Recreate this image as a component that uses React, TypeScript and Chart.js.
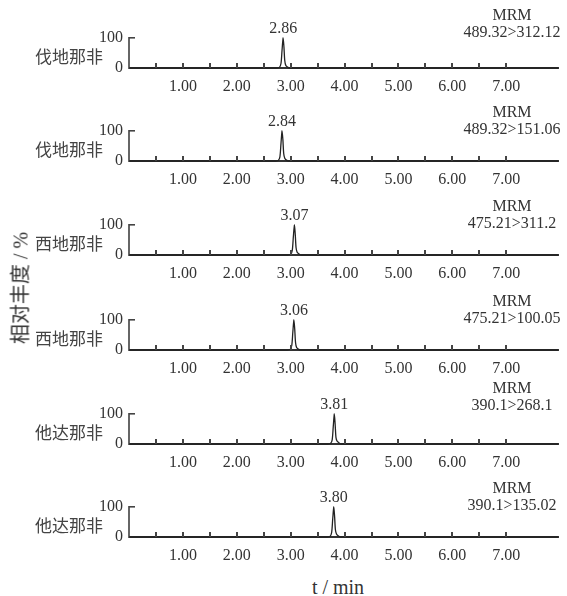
import React, { useEffect, useRef } from 'react';
import { Chart, registerables } from 'chart.js';
Chart.register(...registerables);

// ---- data ----
const compounds = ['伐地那非', '伐地那非', '西地那非', '西地那非', '他达那非', '他达那非'];
const transitions = ['489.32>312.12', '489.32>151.06', '475.21>311.2', '475.21>100.05', '390.1>268.1', '390.1>135.02'];
const peakTimes = [2.86, 2.84, 3.07, 3.06, 3.81, 3.80];
const xTickLabels = ['1.00', '2.00', '3.00', '4.00', '5.00', '6.00', '7.00'];
const yTickLabels = ['0', '100'];

const t1 = [0, 2.74, 2.79, 2.82, 2.84, 2.86, 2.875, 2.89, 2.91, 2.94, 2.98, 7.96];
const i1 = [0, 0, 2, 15, 60, 100, 70, 25, 8, 3, 0, 0];
const t2 = [0, 2.72, 2.77, 2.80, 2.82, 2.84, 2.855, 2.87, 2.89, 2.92, 2.96, 7.96];
const i2 = [0, 0, 2, 14, 58, 100, 72, 26, 9, 3, 0, 0];
const t3 = [0, 2.95, 3.00, 3.03, 3.05, 3.07, 3.085, 3.10, 3.12, 3.15, 3.19, 7.96];
const i3 = [0, 0, 2, 16, 62, 100, 68, 24, 9, 4, 0, 0];
const t4 = [0, 2.94, 2.99, 3.02, 3.04, 3.06, 3.075, 3.09, 3.11, 3.14, 3.18, 7.96];
const i4 = [0, 0, 2, 15, 60, 100, 70, 25, 8, 3, 0, 0];
const t5 = [0, 3.69, 3.74, 3.77, 3.79, 3.81, 3.825, 3.84, 3.86, 3.89, 3.93, 7.96];
const i5 = [0, 0, 2, 14, 58, 100, 66, 22, 10, 5, 0, 0];
const t6 = [0, 3.68, 3.73, 3.76, 3.78, 3.80, 3.815, 3.83, 3.85, 3.88, 3.92, 7.96];
const i6 = [0, 0, 2, 15, 60, 100, 68, 24, 10, 4, 0, 0];

const times = [t1, t2, t3, t4, t5, t6];
const intensities = [i1, i2, i3, i4, i5, i6];

// ---- layout (pixels) ----
const BASELINES = [68, 161, 255, 350, 444, 537];
const MRM_NUDGE = [-4, 0, 0, 0, -7, 0];
const CANVAS_H = 92;
const TOP_OFF = 62;
const SERIF = '"Liberation Serif", "Times New Roman", serif';
const CJK = '"Noto Sans CJK SC", sans-serif';
const TXT = '#333';

function Panel({ index }: { index: number }) {
  const ref = useRef<HTMLCanvasElement | null>(null);
  useEffect(() => {
    if (!ref.current) return;
    const annot = {
      id: 'annot',
      afterDatasetsDraw(chart: any) {
        const { ctx, chartArea } = chart;
        const x = chart.scales.x;
        const y = chart.scales.y;
        ctx.save();
        ctx.fillStyle = '#444';
        const xt: number[] = [];
        for (const tk of x.ticks) xt.push(Number(tk.value));
        xt.forEach((v) => {
          if (v > 0.01 && v < x.max - 0.01 && Math.abs(v * 2 - Math.round(v * 2)) < 1e-6) {
            const px = x.getPixelForValue(v);
            ctx.fillRect(Math.round(px) - 1, chartArea.bottom - 5, 2, 5);
          }
        });
        const yt: number[] = [];
        for (const tk of y.ticks) yt.push(Number(tk.value));
        yt.forEach((v) => {
          if (v > 0.01) {
            const py = y.getPixelForValue(v);
            ctx.fillRect(chartArea.left, Math.round(py) - 1, 6, 1.6);
          }
        });
        const top = y.getPixelForValue(100);
        ctx.fillStyle = TXT;
        ctx.textBaseline = 'middle';
        ctx.textAlign = 'center';
        ctx.font = `16px ${SERIF}`;
        ctx.fillText(peakTimes[index].toFixed(2), x.getPixelForValue(peakTimes[index]), top - 9);
        ctx.fillText('MRM', 512, top - 18 + MRM_NUDGE[index]);
        ctx.fillText(transitions[index], 512, top - 1 + MRM_NUDGE[index]);
        ctx.textAlign = 'right';
        ctx.fillStyle = '#444';
        ctx.font = `17px ${CJK}`;
        ctx.fillText(compounds[index], 103, chartArea.bottom - 11);
        ctx.restore();
      },
    };
    const data = times[index].map((t, k) => ({ x: t, y: intensities[index][k] }));
    const chart = new Chart(ref.current, {
      type: 'line',
      data: {
        datasets: [
          {
            data,
            borderColor: '#222',
            borderWidth: 1.3,
            pointRadius: 0,
            tension: 0.25,
            fill: false,
            clip: false as any,
          },
        ],
      },
      options: {
        responsive: false,
        animation: false,
        layout: { padding: { left: 0, right: 8, top: TOP_OFF - 30, bottom: 0 } },
        plugins: { legend: { display: false }, tooltip: { enabled: false }, title: { display: false } },
        scales: {
          x: {
            type: 'linear',
            min: 0,
            max: 7.96,
            afterFit: (s: any) => { s.height = CANVAS_H - TOP_OFF; },
            grid: { drawOnChartArea: false, drawTicks: false },
            border: { display: true, color: '#333', width: 2 },
            ticks: {
              stepSize: 0.5,
              padding: 9,
              maxRotation: 0,
              autoSkip: false,
              color: TXT,
              font: { family: SERIF, size: 16 },
              callback: (v: any) => {
                const n = Number(v);
                const idx = xTickLabels.indexOf(n.toFixed(2));
                return Math.abs(n - Math.round(n)) < 1e-6 && idx >= 0 ? xTickLabels[idx] : '';
              },
            },
          },
          y: {
            min: 0,
            max: 100,
            afterFit: (s: any) => { s.width = 129; },
            grid: { drawOnChartArea: false, drawTicks: false },
            border: { display: true, color: '#666', width: 2 },
            ticks: {
              stepSize: 50,
              padding: 6,
              color: TXT,
              font: { family: SERIF, size: 16 },
              callback: (v: any) => {
                const s = String(v);
                return yTickLabels.includes(s) ? s : '';
              },
            },
          },
        },
      },
      plugins: [annot],
    });
    return () => chart.destroy();
  }, [index]);
  return (
    <canvas
      ref={ref}
      width={567}
      height={CANVAS_H}
      style={{ position: 'absolute', left: 0, top: BASELINES[index] - TOP_OFF, width: 567, height: CANVAS_H }}
    />
  );
}

export default function App() {
  return (
    <div style={{ position: 'absolute', left: 0, top: 0, width: 567, height: 596, background: '#fff', overflow: 'hidden' }}>
      {compounds.map((_, i) => (
        <Panel key={i} index={i} />
      ))}
      <div
        style={{
          position: 'absolute',
          left: 20,
          top: 288,
          transform: 'translate(-50%, -50%) rotate(-90deg)',
          whiteSpace: 'nowrap',
          fontFamily: SERIF,
          fontSize: 20,
          color: TXT,
          lineHeight: 1,
        }}
      >
        <span style={{ fontFamily: CJK, fontSize: 20 }}>相对丰度</span> / %
      </div>
      <div
        style={{
          position: 'absolute',
          left: 338,
          top: 587,
          transform: 'translate(-50%, -50%)',
          whiteSpace: 'nowrap',
          fontFamily: SERIF,
          fontSize: 20,
          color: TXT,
          lineHeight: 1,
        }}
      >
        t / min
      </div>
    </div>
  );
}
